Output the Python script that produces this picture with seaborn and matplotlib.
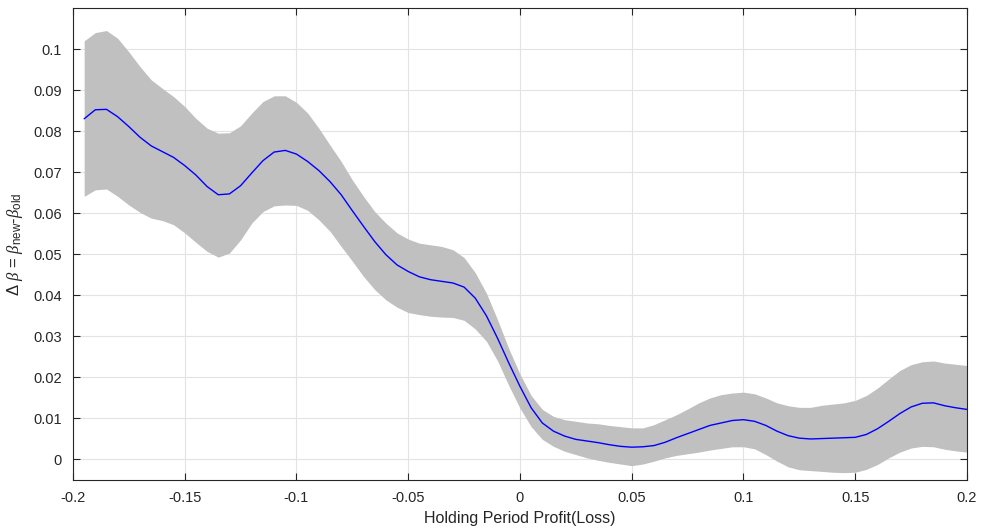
import matplotlib

matplotlib.use("Agg")
import matplotlib.pyplot as plt
import pandas as pd
import seaborn as sns

# Holding-period profit grid (read every 0.005) and the beta change with its band
profit = [
    -0.195, -0.19, -0.185, -0.18, -0.175, -0.17, -0.165, -0.16, -0.155, -0.15,
    -0.145, -0.14, -0.135, -0.13, -0.125, -0.12, -0.115, -0.11, -0.105, -0.10,
    -0.095, -0.09, -0.085, -0.08, -0.075, -0.07, -0.065, -0.06, -0.055, -0.05,
    -0.045, -0.04, -0.035, -0.03, -0.025, -0.02, -0.015, -0.01, -0.005, 0.0,
    0.005, 0.01, 0.015, 0.02, 0.025, 0.03, 0.035, 0.04, 0.045, 0.05,
    0.055, 0.06, 0.065, 0.07, 0.075, 0.08, 0.085, 0.09, 0.095, 0.10,
    0.105, 0.11, 0.115, 0.12, 0.125, 0.13, 0.135, 0.14, 0.145, 0.15,
    0.155, 0.16, 0.165, 0.17, 0.175, 0.18, 0.185, 0.19, 0.195, 0.20,
]
delta_beta = [
    0.0830, 0.0852, 0.0853, 0.0835, 0.0811, 0.0785, 0.0764, 0.0750, 0.0736, 0.0716,
    0.0693, 0.0665, 0.0645, 0.0647, 0.0667, 0.0698, 0.0728, 0.0749, 0.0753, 0.0744,
    0.0726, 0.0704, 0.0677, 0.0645, 0.0606, 0.0568, 0.0531, 0.0499, 0.0474, 0.0458,
    0.0445, 0.0438, 0.0434, 0.0430, 0.0420, 0.0393, 0.0350, 0.0295, 0.0235, 0.0178,
    0.0126, 0.0089, 0.0069, 0.0057, 0.0049, 0.0045, 0.0041, 0.0036, 0.0032, 0.0030,
    0.0031, 0.0034, 0.0042, 0.0053, 0.0063, 0.0073, 0.0083, 0.0089, 0.0095, 0.0097,
    0.0093, 0.0083, 0.0069, 0.0058, 0.0052, 0.0050, 0.0051, 0.0052, 0.0053, 0.0054,
    0.0061, 0.0075, 0.0093, 0.0112, 0.0128, 0.0137, 0.0138, 0.0131, 0.0126, 0.0122,
]
upper = [
    0.1020, 0.1040, 0.1045, 0.1026, 0.0993, 0.0957, 0.0925, 0.0904, 0.0884, 0.0860,
    0.0831, 0.0807, 0.0795, 0.0796, 0.0813, 0.0844, 0.0872, 0.0886, 0.0886, 0.0870,
    0.0844, 0.0807, 0.0766, 0.0726, 0.0681, 0.0641, 0.0604, 0.0576, 0.0552, 0.0537,
    0.0527, 0.0523, 0.0519, 0.0511, 0.0492, 0.0455, 0.0405, 0.0340, 0.0270, 0.0208,
    0.0156, 0.0122, 0.0105, 0.0097, 0.0093, 0.0089, 0.0087, 0.0083, 0.0080, 0.0077,
    0.0077, 0.0085, 0.0097, 0.0109, 0.0123, 0.0138, 0.0150, 0.0158, 0.0162, 0.0164,
    0.0160, 0.0150, 0.0138, 0.0131, 0.0127, 0.0127, 0.0132, 0.0135, 0.0138, 0.0144,
    0.0156, 0.0174, 0.0196, 0.0217, 0.0231, 0.0238, 0.0240, 0.0235, 0.0232, 0.0229,
]
lower = [
    0.0641, 0.0657, 0.0659, 0.0641, 0.0620, 0.0602, 0.0588, 0.0582, 0.0572, 0.0552,
    0.0529, 0.0507, 0.0493, 0.0503, 0.0535, 0.0576, 0.0604, 0.0618, 0.0620, 0.0619,
    0.0607, 0.0584, 0.0556, 0.0519, 0.0483, 0.0446, 0.0414, 0.0389, 0.0371, 0.0358,
    0.0353, 0.0349, 0.0347, 0.0346, 0.0339, 0.0318, 0.0288, 0.0240, 0.0180, 0.0125,
    0.0080, 0.0049, 0.0032, 0.0020, 0.0012, 0.0004, -0.0002, -0.0007, -0.0011, -0.0015,
    -0.0011, -0.0004, 0.0004, 0.0010, 0.0014, 0.0018, 0.0023, 0.0027, 0.0031, 0.0031,
    0.0026, 0.0012, -0.0004, -0.0018, -0.0025, -0.0027, -0.0029, -0.0031, -0.0032, -0.0031,
    -0.0024, -0.0012, 0.0004, 0.0018, 0.0028, 0.0032, 0.0031, 0.0025, 0.0021, 0.0018,
]
x_ticks = [-0.2, -0.15, -0.1, -0.05, 0, 0.05, 0.1, 0.15, 0.2]
x_tick_labels = ["-0.2", "-0.15", "-0.1", "-0.05", "0", "0.05", "0.1", "0.15", "0.2"]
y_ticks = [0, 0.01, 0.02, 0.03, 0.04, 0.05, 0.06, 0.07, 0.08, 0.09, 0.1]
y_tick_labels = ["0", "0.01", "0.02", "0.03", "0.04", "0.05", "0.06", "0.07", "0.08", "0.09", "0.1"]

df = pd.DataFrame({"profit": profit, "delta_beta": delta_beta, "upper": upper, "lower": lower})

sns.set_theme(style="whitegrid")
plt.rcParams["font.family"] = ["Liberation Sans", "DejaVu Sans"]
# sans upright text in math, serif italic for the Greek beta
plt.rcParams["mathtext.fontset"] = "custom"
plt.rcParams["mathtext.rm"] = "Liberation Sans"
plt.rcParams["mathtext.it"] = "Liberation Serif:italic"
plt.rcParams["mathtext.bf"] = "Liberation Sans:bold"

fig = plt.figure(figsize=(9.81, 5.31), dpi=100)
ax = fig.add_axes([0.0744, 0.096, 0.9113, 0.889])

# ── confidence band + estimate ────────────────────────────────────────────
ax.fill_between(df["profit"], df["lower"], df["upper"], color="#c0c0c0", linewidth=0, zorder=2)
sns.lineplot(data=df, x="profit", y="delta_beta", color="#0000ff", linewidth=1.0, ax=ax, zorder=3)

ax.set_xlim(-0.2, 0.2)
ax.set_ylim(-0.005, 0.11)
ax.set_xticks(x_ticks)
ax.set_xticklabels(x_tick_labels)
ax.set_yticks(y_ticks)
ax.set_yticklabels(y_tick_labels)

ax.grid(True, color="#e3e3e3", linewidth=0.8)
ax.set_axisbelow(True)
for spine in ax.spines.values():
    spine.set_color("#262626")
    spine.set_linewidth(0.8)
ax.tick_params(axis="both", direction="in", length=5, width=0.8, color="#262626",
               labelsize=10.5, labelcolor="#262626", top=True, right=True,
               bottom=True, left=True, pad=8)

ax.set_xlabel("Holding Period Profit(Loss)", fontsize=11.5, color="#262626", labelpad=4)
ax.set_ylabel("\u0394 " + r"$\beta$ = $\beta_{\mathrm{new}}$-$\beta_{\mathrm{old}}$",
              fontsize=12, color="#262626", labelpad=6)

fig.savefig("out.png", dpi=100)
plt.close(fig)
